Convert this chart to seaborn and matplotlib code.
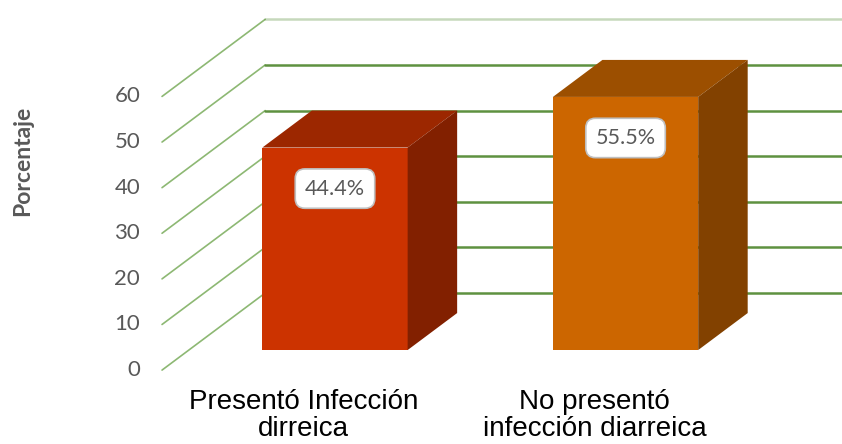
import seaborn as sns
import matplotlib.pyplot as plt
from matplotlib.patches import Polygon

# datos
categorias = ['Presentó Infección\ndirreica', 'No presentó\ninfección diarreica']
porcentajes = [44.4, 55.5]
etiquetas = ['44.4%', '55.5%']
ticks = [0, 10, 20, 30, 40, 50, 60]

# colores de las caras
frentes = ['#CC3300', '#CC6600']
techos = ['#9C2700', '#9C4F00']
lados = ['#822000', '#824100']

# perspectiva falsa (en unidades de datos): desplazamiento por profundidad completa
PX, PY = 0.355, 16.9
D_BARRA0, D_BARRA1 = 0.26, 0.74
X_PARED = -0.503


def desp(d):
    return (d - D_BARRA0) * PX, (d - D_BARRA0) * PY


sns.set_style('white')
fig = plt.figure(figsize=(8.42, 4.44), dpi=100)
ax = fig.add_axes([0, 0, 1, 1])

# cara frontal de las barras
sns.barplot(x=categorias, y=porcentajes, hue=categorias, palette=frentes,
            width=0.5, linewidth=0, saturation=1, legend=False, ax=ax, zorder=3)

# paredes: lineas de la pared lateral y de la pared de fondo
fx, fy = desp(0)
bx, by = desp(1)
for v in ticks:
    alfa = 0.35 if v == ticks[-1] else 1
    ax.plot([X_PARED + fx, X_PARED + bx], [v + fy, v + by],
            color='#8DB873', lw=1.2, zorder=1)
    ax.plot([X_PARED + bx, 3], [v + by, v + by],
            color='#5E9140', lw=1.8, alpha=alfa, zorder=1)
    ax.text(X_PARED + fx - 0.075, v + fy, str(v), ha='right', va='center',
            fontsize=16, color='#595959', family=['Lato', 'DejaVu Sans'])

# caras superior y lateral + etiquetas
bdx, bdy = desp(D_BARRA1)
w = 0.25
for i, v in enumerate(porcentajes):
    x0, x1 = i - w, i + w
    ax.add_patch(Polygon([(x0, v), (x1, v), (x1 + bdx, v + bdy), (x0 + bdx, v + bdy)],
                         facecolor=techos[i], lw=0, zorder=3))
    ax.add_patch(Polygon([(x1, 0), (x1, v), (x1 + bdx, v + bdy), (x1 + bdx, bdy)],
                         facecolor=lados[i], lw=0, zorder=3))
    ax.text(i, v - 9, etiquetas[i], ha='center', va='center', fontsize=15.5,
            color='#595959', family=['Lato', 'DejaVu Sans'], zorder=5,
            bbox=dict(boxstyle='round,pad=0.45', fc='white', ec='#BFBFBF', lw=1.2))
    ax.text(i + fx - 0.015, fy - 4.1, categorias[i], ha='center', va='top', fontsize=20,
            color='black', family=['Liberation Sans', 'DejaVu Sans'], linespacing=1.08)

fig.text(0.027, 1 - 161 / 444, 'Porcentaje', rotation=90, fontweight='bold',
         color='#595959', fontsize=16.5, ha='center', va='center',
         family=['Lato', 'DejaVu Sans'])

ax.set_xlim(-1.153, 1.745)
ax.set_ylim(-20.6, 76.75)
ax.set_axis_off()

fig.savefig('out.png', dpi=100)
